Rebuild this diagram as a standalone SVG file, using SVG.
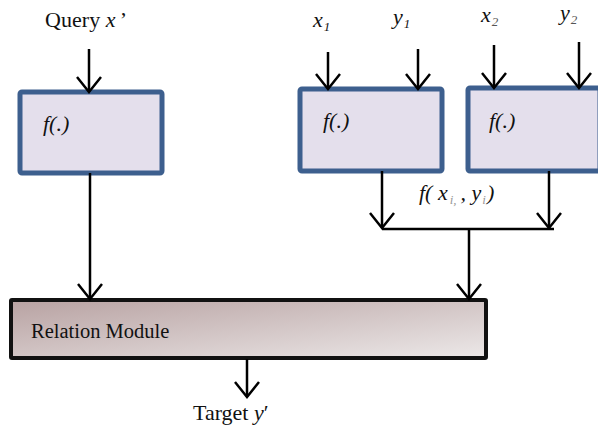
<svg xmlns="http://www.w3.org/2000/svg" width="598" height="428" viewBox="0 0 598 428">
  <defs>
    <marker id="arrow" markerUnits="userSpaceOnUse" markerWidth="40" markerHeight="40" viewBox="-20 -20 40 40" refX="0" refY="0" orient="auto">
      <path d="M-15,-12 L0,0 L-15,12" fill="none" stroke="#000" stroke-width="2.5"/>
    </marker>
    <linearGradient id="relGrad" x1="0" y1="0" x2="1" y2="1">
      <stop offset="0" stop-color="#b8a2a2"/>
      <stop offset="1" stop-color="#ece8e8"/>
    </linearGradient>
  </defs>
  <style>
    .fbox { fill: #e4dfec; stroke: #3d5f8e; stroke-width: 5; }
    .rel { fill: url(#relGrad); stroke: #111; stroke-width: 4; }
    .wire { fill: none; stroke: #000; stroke-width: 2.5; }
    .arr { marker-end: url(#arrow); }
    text { font-family: "Liberation Serif", "Times New Roman", serif; fill: #111; }
    .lbl { font-size: 22px; }
    .fn { font-size: 22px; font-style: italic; }
    .it { font-style: italic; }
    .sub { font-size: 13px; font-style: italic; }
  </style>

  <rect width="598" height="428" fill="#fff"/>

  <!-- input labels -->
  <text class="lbl" x="45" y="27" textLength="82">Query <tspan class="it">x</tspan><tspan dx="4">’</tspan></text>
  <text class="lbl it" x="313" y="27">x<tspan class="sub" dy="4" dx="1">1</tspan></text>
  <text class="lbl it" x="393" y="24">y<tspan class="sub" dy="4" dx="1">1</tspan></text>
  <text class="lbl it" x="481" y="22">x<tspan class="sub" dy="4" dx="1" fill="#555">2</tspan></text>
  <text class="lbl it" x="560" y="20">y<tspan class="sub" dy="4" dx="1" fill="#555">2</tspan></text>

  <!-- query encoder -->
  <g id="f-query">
    <rect class="fbox" x="20" y="92" width="142" height="81" rx="2"/>
    <text class="fn" x="43" y="131">f(.)</text>
  </g>

  <!-- support encoder 1 -->
  <g id="f-support-1">
    <rect class="fbox" x="300" y="89" width="142" height="82" rx="2"/>
    <text class="fn" x="323" y="128">f(.)</text>
  </g>

  <!-- support encoder 2 -->
  <g id="f-support-2">
    <rect class="fbox" x="468" y="88" width="132" height="83" rx="2"/>
    <text class="fn" x="489" y="128">f(.)</text>
  </g>

  <!-- relation module -->
  <g id="relation-module">
    <rect class="rel" x="11" y="300" width="475" height="58" rx="1"/>
    <text x="31" y="338" font-size="20.5">Relation Module</text>
  </g>

  <!-- output label -->
  <g id="target">
    <text class="lbl" x="193" y="420">Target <tspan class="it">y</tspan>′</text>
  </g>

  <!-- pair feature label -->
  <text class="fn" x="419" y="200">f( x<tspan class="sub" dx="2" dy="4" fill="#999">i,</tspan><tspan dy="-4" dx="4">, y</tspan><tspan class="sub" dx="1" dy="4" fill="#999">i</tspan><tspan dy="-4" dx="1">)</tspan></text>

  <!-- connectors -->
  <g id="connectors">
    <line class="wire arr" x1="89" y1="49" x2="89" y2="92"/>
    <line class="wire arr" x1="328" y1="52" x2="328" y2="89"/>
    <line class="wire arr" x1="418" y1="49" x2="418" y2="89"/>
    <line class="wire arr" x1="494" y1="45" x2="494" y2="88"/>
    <line class="wire arr" x1="579" y1="42" x2="579" y2="88"/>

    <line class="wire arr" x1="90" y1="173" x2="90" y2="299"/>

    <line class="wire arr" x1="382" y1="171" x2="382" y2="228"/>
    <line class="wire arr" x1="549" y1="171" x2="549" y2="228"/>
    <line class="wire" x1="382" y1="229" x2="554" y2="229"/>
    <line class="wire arr" x1="469" y1="229" x2="469" y2="299"/>

    <line class="wire arr" x1="247" y1="359" x2="247" y2="397"/>
  </g>
</svg>
